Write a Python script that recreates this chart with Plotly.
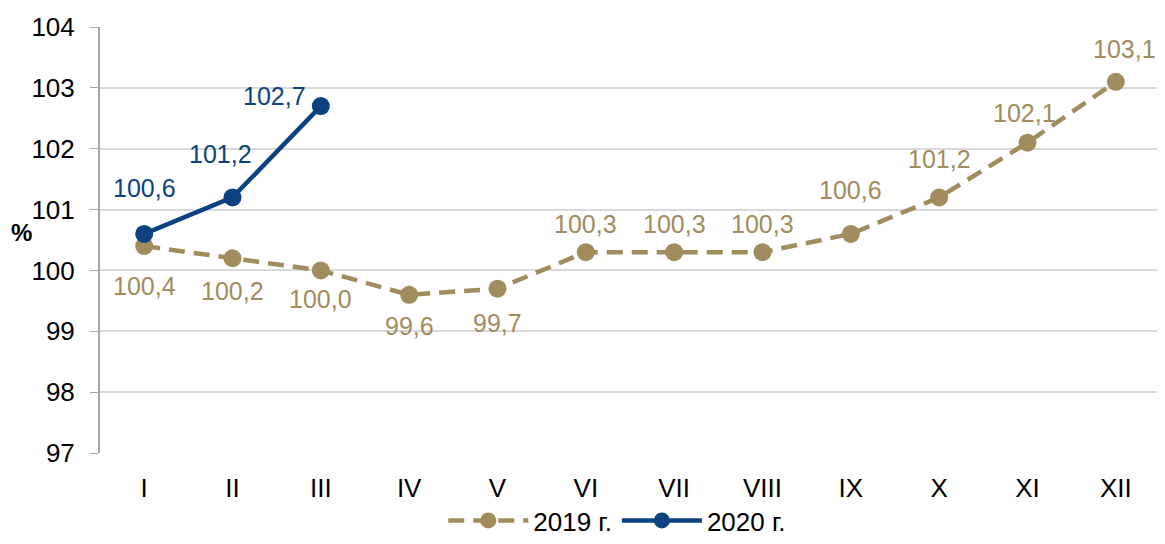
import plotly.graph_objects as go

months = ["I", "II", "III", "IV", "V", "VI", "VII", "VIII", "IX", "X", "XI", "XII"]
values_2019 = [100.4, 100.2, 100.0, 99.6, 99.7, 100.3, 100.3, 100.3, 100.6, 101.2, 102.1, 103.1]
values_2020 = [100.6, 101.2, 102.7]
y_ticks = [97, 98, 99, 100, 101, 102, 103, 104]

gold = "#A08C5C"
navy = "#0B427F"
font_family = "Liberation Sans, Arial"


def fmt(v):
    return f"{v:.1f}".replace(".", ",")


fig = go.Figure()

fig.add_trace(go.Scatter(
    x=months,
    y=values_2019,
    name="2019 г.",
    mode="lines+markers",
    line=dict(color=gold, width=4.5, dash="16px,9px"),
    marker=dict(color=gold, size=18),
))

fig.add_trace(go.Scatter(
    x=months[:len(values_2020)],
    y=values_2020,
    name="2020 г.",
    mode="lines+markers",
    line=dict(color=navy, width=4.5),
    marker=dict(color=navy, size=18),
))

# label offsets (px) roughly like the original Excel placement
shifts_2019 = [(0, -40), (0, -33), (0, -29), (0, -31), (0, -34), (0, 28),
               (0, 28), (0, 28), (0, 44), (0, 38), (-3, 30), (9, 33)]
shifts_2020 = [(0, 46), (-12, 43), (-46, 10)]

for m, v, (dx, dy) in zip(months, values_2019, shifts_2019):
    fig.add_annotation(x=m, y=v, text=fmt(v), showarrow=False,
                       xshift=dx, yshift=dy,
                       font=dict(color=gold, size=25, family=font_family))

for m, v, (dx, dy) in zip(months, values_2020, shifts_2020):
    fig.add_annotation(x=m, y=v, text=fmt(v), showarrow=False,
                       xshift=dx, yshift=dy,
                       font=dict(color=navy, size=25, family=font_family))

fig.add_annotation(x=0, xref="paper", xanchor="center", xshift=-79, y=100.62,
                   text="<b>%</b>", showarrow=False, font=dict(size=24, color="black"))

# page body has an 8px margin, so the figure is a bit smaller than the window
fig.update_layout(
    width=1157,
    height=536,
    margin=dict(l=92, r=5, t=19, b=91, autoexpand=False),
    plot_bgcolor="white",
    paper_bgcolor="white",
    font=dict(family=font_family, size=25, color="black"),
    showlegend=True,
    legend=dict(orientation="h", x=0.488, xanchor="center", y=0, yanchor="bottom",
                yref="container", font=dict(size=26), itemwidth=80),
)

fig.update_xaxes(
    type="category",
    range=[-0.5, 11.5],
    showgrid=False,
    showline=False,
    ticks="outside",
    ticklen=12,
    tickcolor="rgba(0,0,0,0)",
    tickfont=dict(size=26),
)

fig.update_yaxes(
    range=[97, 104],
    tickvals=y_ticks,
    showgrid=True,
    gridcolor="#D9D9D9",
    gridwidth=2,
    showline=True,
    linecolor="#A6A6A6",
    linewidth=2,
    ticks="outside",
    tickcolor="#A6A6A6",
    ticklen=8,
    tickwidth=1,
    ticklabelstandoff=10,
    zeroline=False,
    tickfont=dict(size=26),
)

fig.write_html("out.html")
